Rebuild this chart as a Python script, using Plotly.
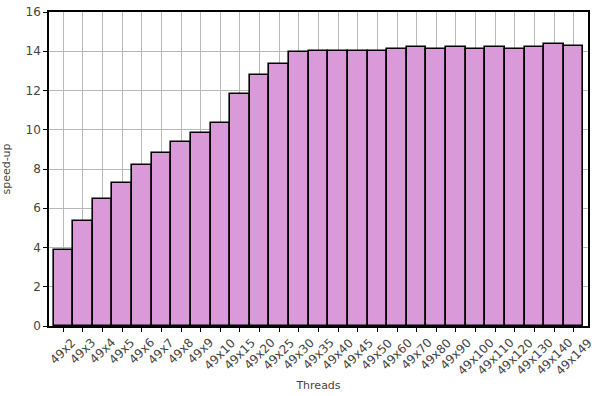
import plotly.graph_objects as go

categories = ["49x2", "49x3", "49x4", "49x5", "49x6", "49x7", "49x8", "49x9", "49x10",
              "49x15", "49x20", "49x25", "49x30", "49x35", "49x40", "49x45", "49x50",
              "49x60", "49x70", "49x80", "49x90", "49x100", "49x110", "49x120",
              "49x130", "49x140", "49x149"]
speedup = [3.88, 5.34, 6.46, 7.31, 8.2, 8.8, 9.4, 9.82, 10.35,
           11.82, 12.77, 13.35, 13.95, 14.0, 14.0, 14.0, 14.0,
           14.1, 14.2, 14.1, 14.2, 14.1, 14.2, 14.1,
           14.2, 14.38, 14.28]
y_ticks = [0, 2, 4, 6, 8, 10, 12, 14, 16]

xpos = list(range(len(categories)))

fig = go.Figure(go.Bar(
    x=xpos, y=speedup, width=1.0,
    marker=dict(color="#DA9ADA", line=dict(color="black", width=1.6)),
))

# centred, rotated category labels (matplotlib-style rotation=45, ha='center')
for i, lab in zip(xpos, categories):
    fig.add_annotation(
        x=i, y=0, xref="x", yref="y", text=lab, showarrow=False,
        textangle=-45, xanchor="center", yanchor="top", yshift=-7,
        font=dict(family="DejaVu Sans", size=12, color="#444"),
    )

fig.update_layout(
    width=594, height=396,
    margin=dict(l=49, r=6, t=12, b=70),
    paper_bgcolor="white", plot_bgcolor="white",
    font=dict(family="DejaVu Sans", size=11, color="#444"),
    showlegend=False, bargap=0,
)
fig.update_xaxes(
    tickmode="array", tickvals=xpos, showticklabels=False,
    range=[-0.73, len(categories) - 0.27], automargin=False,
    showgrid=True, gridcolor="#b8b8b8", gridwidth=1,
    showline=True, linecolor="black", linewidth=1.5, mirror=True,
    ticks="outside", ticklen=4, tickcolor="black",
    title=dict(text="Threads", font=dict(size=11), standoff=51),
)
fig.update_yaxes(
    tickmode="array", tickvals=y_ticks, range=[0, 16], automargin=False,
    showgrid=True, gridcolor="#b8b8b8", gridwidth=1,
    showline=True, linecolor="black", linewidth=1.5, mirror=True,
    ticks="outside", ticklen=4, tickcolor="black", tickfont=dict(size=12),
    title=dict(text="speed-up", font=dict(size=11)),
    zeroline=False,
)
fig.write_html("out.html", config={"displayModeBar": False},
               post_script="document.body.style.margin='0';document.body.style.overflow='hidden';")
